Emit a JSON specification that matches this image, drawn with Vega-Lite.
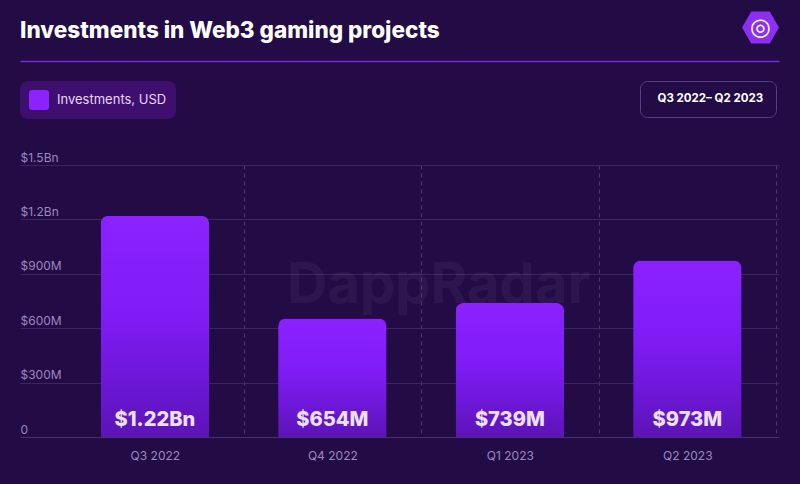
{
  "$schema": "https://vega.github.io/schema/vega-lite/v6.json",
  "description": "Investments in Web3 gaming projects, Q3 2022 - Q2 2023",
  "width": 759,
  "height": 272,
  "autosize": "none",
  "padding": {"left": 20, "top": 165, "right": 21, "bottom": 47},
  "background": "#230b45",
  "title": {
    "text": "Investments in Web3 gaming projects",
    "anchor": "start",
    "frame": "group",
    "font": "Inter",
    "fontSize": 22.5,
    "fontWeight": 800,
    "color": "#ffffff",
    "baseline": "alphabetic",
    "offset": -51
  },
  "data": {
    "values": [
      {"quarter": "Q3 2022", "value": 1220000000, "label": "$1.22Bn", "series": "Investments, USD", "period": "Q3 2022– Q2 2023", "source": "DappRadar"},
      {"quarter": "Q4 2022", "value": 654000000, "label": "$654M", "series": "Investments, USD", "period": "Q3 2022– Q2 2023", "source": "DappRadar"},
      {"quarter": "Q1 2023", "value": 739000000, "label": "$739M", "series": "Investments, USD", "period": "Q3 2022– Q2 2023", "source": "DappRadar"},
      {"quarter": "Q2 2023", "value": 973000000, "label": "$973M", "series": "Investments, USD", "period": "Q3 2022– Q2 2023", "source": "DappRadar"}
    ]
  },
  "layer": [
    {
      "data": {"values": [{"brand": "DappRadar"}]},
      "mark": {"type": "text", "font": "Inter", "fontSize": 56, "fontWeight": 700, "color": "#ffffff", "opacity": 0.045, "align": "center", "baseline": "alphabetic", "dx": -17},
      "encoding": {
        "x": {"datum": "Q1 2023", "type": "nominal", "bandPosition": 0, "axis": null},
        "y": {"datum": 740000000, "type": "quantitative"},
        "text": {"field": "brand"}
      }
    },
    {
      "mark": {
        "type": "bar",
        "cornerRadiusTopLeft": 8,
        "cornerRadiusTopRight": 8,
        "color": {
          "gradient": "linear",
          "x1": 0, "y1": 0, "x2": 0, "y2": 1,
          "stops": [
            {"offset": 0, "color": "#8b22ff"},
            {"offset": 0.45, "color": "#7f1cf5"},
            {"offset": 0.75, "color": "#6d17d6"},
            {"offset": 1, "color": "#5b14b5"}
          ]
        }
      },
      "encoding": {
        "x": {
          "field": "quarter",
          "type": "nominal",
          "sort": ["Q3 2022", "Q4 2022", "Q1 2023", "Q2 2023"],
          "scale": {"paddingInner": 0.389, "paddingOuter": 0.3325, "align": 0.683},
          "axis": {
            "title": null,
            "orient": "bottom",
            "labelAngle": 0,
            "labelColor": "#9b89c0",
            "labelFontSize": 12,
            "labelPadding": 13,
            "ticks": false,
            "tickSize": 0,
            "domain": true,
            "domainColor": "#46326a",
            "grid": true,
            "gridDash": [4, 4],
            "gridColor": "#4a3a6a",
            "bandPosition": 0.5,
            "tickOffset": 88.75,
            "labelOffset": -88.75
          }
        },
        "y": {
          "field": "value",
          "type": "quantitative",
          "scale": {"domain": [0, 1500000000], "nice": false},
          "axis": {
            "title": null,
            "values": [0, 300000000, 600000000, 900000000, 1200000000, 1500000000],
            "labelExpr": "datum.value == 0 ? '0' : datum.value >= 1000000000 ? '$' + format(datum.value / 1000000000, '.1f') + 'Bn' : '$' + format(datum.value / 1000000, 'd') + 'M'",
            "labelAlign": "left",
            "labelBaseline": "alphabetic",
            "labelOffset": -4,
            "labelPadding": 0,
            "labelColor": "#9b89c0",
            "labelFontSize": 12,
            "ticks": false,
            "tickSize": 0,
            "domain": false,
            "grid": true,
            "gridColor": "#3a2661"
          }
        }
      }
    },
    {
      "mark": {"type": "text", "font": "Inter", "fontSize": 20, "fontWeight": 800, "color": "#ebe0f7", "baseline": "alphabetic", "dy": -11},
      "encoding": {
        "x": {"field": "quarter", "type": "nominal", "sort": ["Q3 2022", "Q4 2022", "Q1 2023", "Q2 2023"], "axis": null},
        "y": {"datum": 0, "type": "quantitative"},
        "text": {"field": "label"}
      }
    },
    {
      "mark": {"type": "point", "filled": true, "opacity": 0},
      "encoding": {
        "x": {
          "field": "quarter",
          "type": "nominal",
          "sort": ["Q3 2022", "Q4 2022", "Q1 2023", "Q2 2023"],
          "axis": {"orient": "top", "offset": 104, "title": null, "labels": false, "ticks": false, "grid": false, "domainColor": "#7325e3", "domainWidth": 1.5}
        },
        "y": {"field": "value", "type": "quantitative"},
        "color": {
          "field": "series",
          "type": "nominal",
          "scale": {"domain": ["Investments, USD"], "range": ["#8b22ff"]},
          "legend": {
            "title": null,
            "orient": "none",
            "legendX": 0,
            "legendY": -84,
            "fillColor": "#3f0f70",
            "cornerRadius": 8,
            "padding": 9,
            "symbolType": "M-0.7,-1L0.7,-1Q1,-1 1,-0.7L1,0.7Q1,1 0.7,1L-0.7,1Q-1,1 -1,0.7L-1,-0.7Q-1,-1 -0.7,-1Z",
            "symbolSize": 400,
            "symbolOpacity": 1,
            "symbolStrokeWidth": 0,
            "labelColor": "#e6d8f5",
            "labelFont": "Inter",
            "labelFontSize": 13,
            "labelOffset": 8
          }
        },
        "shape": {
          "field": "period",
          "type": "nominal",
          "scale": {"range": ["circle"]},
          "legend": {
            "title": null,
            "orient": "none",
            "legendX": 620,
            "legendY": -84,
            "strokeColor": "#5b3d86",
            "cornerRadius": 7,
            "padding": 12,
            "symbolSize": 0,
            "symbolOpacity": 0,
            "symbolStrokeWidth": 0,
            "labelOffset": -6,
            "labelColor": "#ffffff",
            "labelFont": "Inter",
            "labelFontSize": 11.5,
            "labelFontWeight": 700
          }
        },
        "strokeDash": {
          "field": "source",
          "type": "nominal",
          "scale": {"range": [[1, 0]]},
          "legend": {
            "title": null,
            "orient": "none",
            "legendX": 722,
            "legendY": -156,
            "padding": 0,
            "symbolType": "M-1,0L-0.5,-0.866L0.5,-0.866L1,0L0.5,0.866L-0.5,0.866Z",
            "symbolSize": 1369,
            "symbolFillColor": "#8d2ff2",
            "symbolOpacity": 1,
            "symbolStrokeWidth": 0,
            "labelExpr": "'◎'",
            "labelFont": "DejaVu Sans",
            "labelFontSize": 24,
            "labelFontWeight": 700,
            "labelColor": "#ffffff",
            "labelAlign": "center",
            "labelOffset": -18.5
          }
        }
      }
    }
  ],
  "resolve": {"axis": {"x": "independent"}},
  "config": {
    "view": {"stroke": null},
    "axis": {"labelFont": "Inter"},
    "legend": {"labelFont": "Inter"}
  }
}
